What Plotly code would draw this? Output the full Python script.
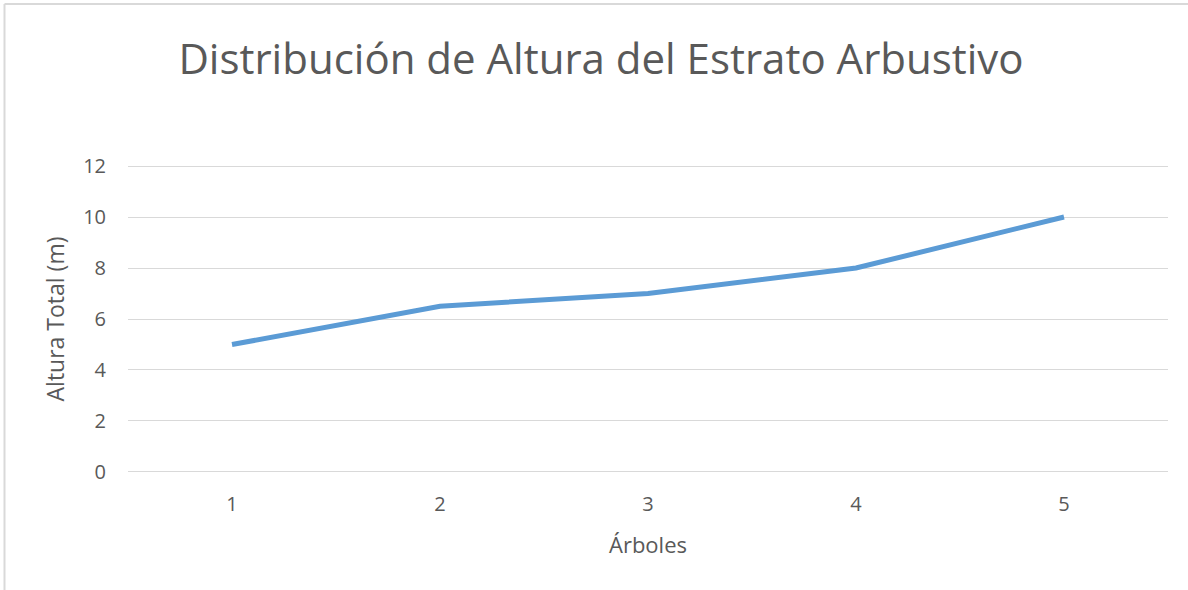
import plotly.graph_objects as go

# Data
arboles = [1, 2, 3, 4, 5]
altura_total = [5, 6.5, 7, 8, 10]
y_ticks = [0, 2, 4, 6, 8, 10, 12]

W, H = 1188, 590
PAD = 0.04  # small headroom so the 0 and 12 gridlines are drawn
ML, MR = 128, 20
# plot area spans y=166 (value 12) to y=472 (value 0), widened by PAD
unit = (472 - 166) / 12
MT = 166 - PAD * unit
MB = H - (472 + PAD * unit)
PW, PH = W - ML - MR, H - MT - MB

TEXT = "#595959"
GRID = "#D9D9D9"
FONT = "Open Sans, Noto Sans, sans-serif"


def px_x(px):
    return (px - ML) / PW


def px_y(py):
    return (H - MB - py) / PH


fig = go.Figure()
fig.add_trace(go.Scatter(
    x=arboles, y=altura_total, mode="lines",
    line=dict(color="#5B9BD5", width=5),
    hoverinfo="x+y", showlegend=False,
))

fig.update_layout(
    width=W, height=H,
    margin=dict(l=ML, r=MR, t=MT, b=MB),
    paper_bgcolor="white", plot_bgcolor="white",
    font=dict(family=FONT, color=TEXT),
    title=dict(
        text="Distribución de Altura del Estrato Arbustivo",
        font=dict(size=42, color=TEXT, family=FONT),
        x=601 / W, xref="container", xanchor="center",
        y=1 - 59 / H, yref="container", yanchor="middle",
    ),
    xaxis=dict(
        range=[0.5, 5.5], tickvals=arboles, ticktext=[str(a) for a in arboles],
        showgrid=False, zeroline=False, showline=False, ticks="",
        tickfont=dict(size=20, color=TEXT), ticklabelstandoff=17,
        title=dict(text="Árboles", font=dict(size=22, color=TEXT), standoff=21),
    ),
    yaxis=dict(
        range=[-PAD, 12 + PAD], tickvals=y_ticks, showgrid=True, gridcolor=GRID, gridwidth=1.3,
        zeroline=False, showline=False, ticks="",
        tickfont=dict(size=20, color=TEXT), ticklabelstandoff=21,
        title=dict(text="Altura Total (m)", font=dict(size=23, color=TEXT), standoff=12),
    ),
    shapes=[
        dict(type="line", xref="paper", yref="paper",
             x0=px_x(4.5), x1=px_x(4.5), y0=px_y(4), y1=px_y(600),
             line=dict(color=GRID, width=2)),
        dict(type="line", xref="paper", yref="paper",
             x0=px_x(4.5), x1=px_x(1200), y0=px_y(4), y1=px_y(4),
             line=dict(color=GRID, width=2)),
    ],
)

fig.write_html("out.html")
